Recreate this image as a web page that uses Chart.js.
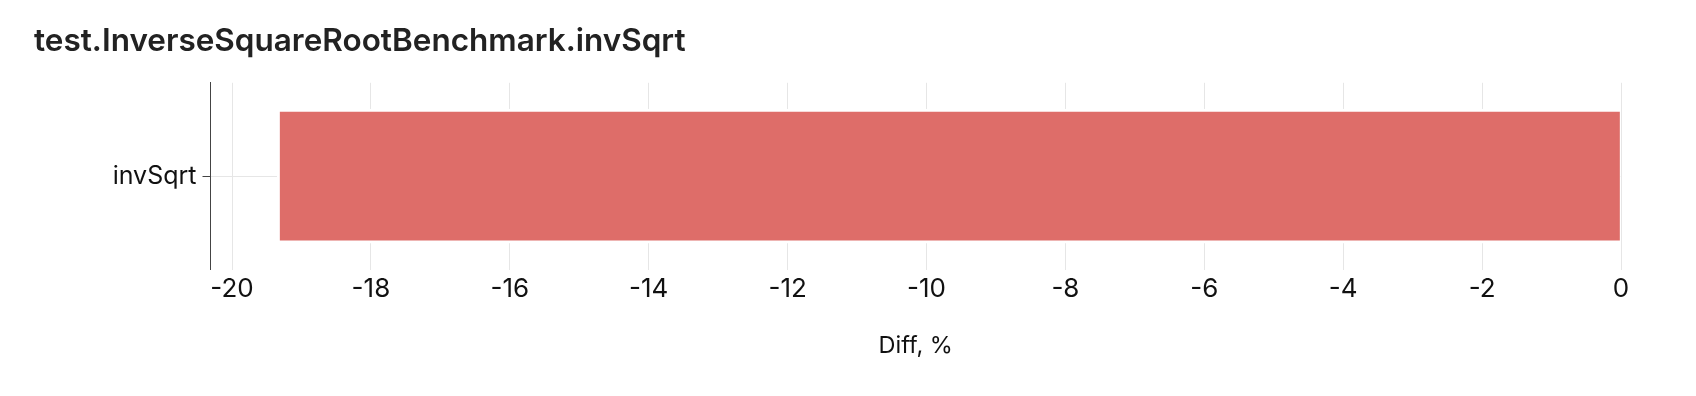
<!DOCTYPE html>
<html>
<head>
<meta charset="utf-8">
<script src="https://cdn.jsdelivr.net/npm/chart.js@4/dist/chart.umd.min.js"></script>
<style>
  html, body { margin: 0; padding: 0; background: #fff; }
</style>
</head>
<body>
<canvas id="diffChart" width="1696" height="396"></canvas>
<script>
// data
const categories = ['invSqrt'];
const diffValues = [-19.35];
const xTicks = [-20, -18, -16, -14, -12, -10, -8, -6, -4, -2, 0];
const xMin = -20.31;
const xMax = 0;

const FONT = 'Inter, "Noto Sans", sans-serif';

const config = {
    type: 'bar',
    data: {
        labels: categories,
        datasets: [{
            data: diffValues,
            backgroundColor: '#de6d69',
            borderColor: '#ffffff',
            borderWidth: { top: 3, bottom: 3, left: 3, right: 1 },
            borderSkipped: false,
            barThickness: 134
        }]
    },
    options: {
        indexAxis: 'y',
        responsive: false,
        animation: false,
        devicePixelRatio: 1,
        layout: { padding: { left: 34, right: 75, top: 0, bottom: 36 } },
        plugins: {
            legend: { display: false },
            tooltip: { enabled: false },
            title: {
                display: true,
                text: 'test.InverseSquareRootBenchmark.invSqrt',
                align: 'start',
                color: '#222',
                font: { family: FONT, size: 31.5, weight: '600' },
                padding: { top: 23, bottom: 22 }
            }
        },
        scales: {
            x: {
                min: xMin,
                max: xMax,
                afterBuildTicks: (scale) => {
                    scale.ticks = xTicks.map(v => ({ value: v }));
                },
                grid: { color: '#e6e6e6', lineWidth: 1, drawTicks: false },
                border: { display: false },
                ticks: {
                    color: '#111',
                    font: { family: FONT, size: 26 },
                    padding: 3.5,
                    maxRotation: 0
                },
                title: {
                    display: true,
                    text: 'Diff, %',
                    color: '#111',
                    font: { family: FONT, size: 23.5 },
                    padding: { top: 24, bottom: 0 }
                }
            },
            y: {
                afterFit: (scale) => { scale.width = 176.5; },
                grid: { color: '#e6e6e6', lineWidth: 1, offset: false, tickLength: 8,
                        tickColor: '#444' },
                border: { display: true, color: '#444', width: 1 },
                ticks: {
                    color: '#111',
                    font: { family: FONT, size: 25 },
                    padding: 6
                }
            }
        }
    }
};

const myChart = new Chart(document.getElementById('diffChart'), config);
</script>
</body>
</html>
